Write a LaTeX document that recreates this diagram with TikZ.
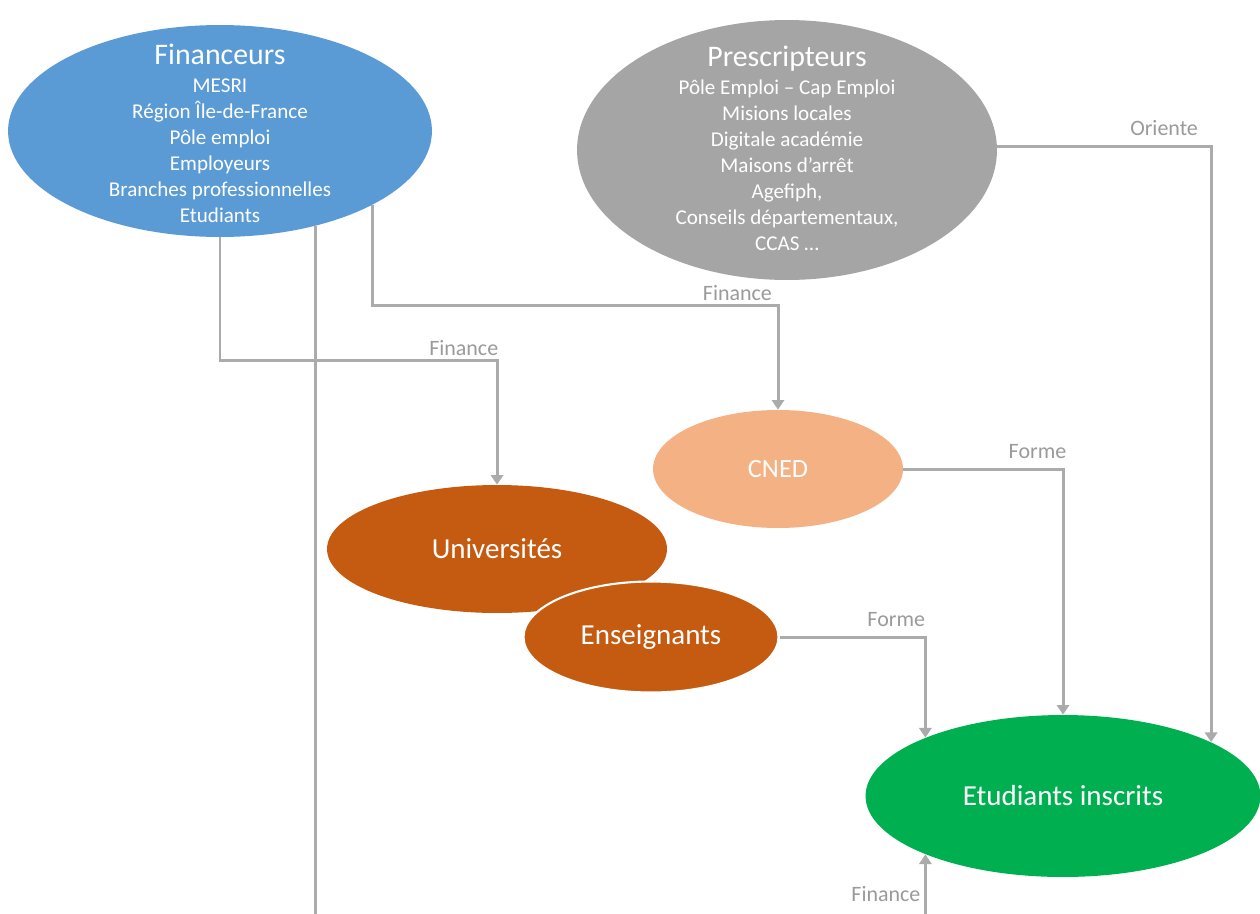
\documentclass[tikz,border=0pt]{standalone}
\usepackage{fontspec}
\setmainfont{Carlito}
\usetikzlibrary{shapes.geometric,arrows.meta}
\definecolor{finblue}{HTML}{5B9BD5}
\definecolor{presgray}{HTML}{A5A5A5}
\definecolor{cnedorange}{HTML}{F4B183}
\definecolor{univorange}{HTML}{C55A11}
\definecolor{etugreen}{HTML}{00B050}
\definecolor{linkgray}{HTML}{ABABAB}
\definecolor{lblgray}{HTML}{9A9A9A}
\tikzset{
  bubble/.style={ellipse, draw=none, inner sep=0pt},
  bubbletext/.style={text=white, align=center, inner sep=0pt,
    font=\fontsize{12}{14.8}\selectfont},
  link/.style={draw=linkgray, line width=1.7pt,
    -{Triangle[width=7pt,length=5.5pt]}},
  lbl/.style={text=lblgray, font=\fontsize{12.5}{14}\selectfont, inner sep=2pt}
}

\begin{document}
\begin{tikzpicture}[x=0.02cm, y=-0.02cm]
  \useasboundingbox (0,0) rectangle (1260,913);

  % the bubbles
  \node[bubble, fill=finblue, minimum width=8.48cm, minimum height=4.24cm]
    (fin) at (220,131) {};
  \node[bubbletext] (fintxt) at (220,133) {
    {\fontsize{17}{20}\selectfont Financeurs}\\[1pt]
    MESRI\\ Région Île-de-France\\ Pôle emploi\\ Employeurs\\
    Branches professionnelles\\ Etudiants};

  \node[bubble, fill=presgray, minimum width=8.4cm, minimum height=5.2cm]
    (pres) at (787,150) {};
  \node[bubbletext] (prestxt) at (787,148) {
    {\fontsize{17}{20}\selectfont Prescripteurs}\\[1pt]
    Pôle Emploi – Cap Emploi\\ Misions locales\\ Digitale académie\\
    Maisons d’arrêt\\ Agefiph,\\ Conseils départementaux,\\ CCAS …};

  \node[bubble, fill=cnedorange, minimum width=5cm, minimum height=2.36cm,
    text=white, font=\fontsize{15}{18}\selectfont] (cned) at (778,469) {CNED};
  \node[bubble, fill=univorange, minimum width=6.8cm, minimum height=2.56cm,
    text=white, font=\fontsize{16.5}{20}\selectfont] (univ) at (497,549) {Universités};
  \node[ellipse, fill=univorange, draw=white, line width=1.2pt, inner sep=0pt,
    minimum width=5.1cm, minimum height=2.22cm,
    text=white, font=\fontsize{16.5}{20}\selectfont] (ens) at (651,637) {Enseignants};
  \node[bubble, fill=etugreen, minimum width=7.9cm, minimum height=3.24cm,
    text=white, font=\fontsize{16.5}{20}\selectfont] (etu) at (1063,796) {Etudiants inscrits};

  \coordinate (bot) at (0,930);

  % the links
  \draw[link] (fin.south) -- ++(0,123) -| (univ.north)
    node[lbl, above, pos=0.44] (l1) {Finance};
  \draw[link] (fin.-26.6) -- ++(0,100) -| (cned.north)
    node[lbl, above, pos=0.45] (l2) {Finance};
  \draw[link] (fin.-45) |- (bot) -| (etu.-157)
    node[lbl, anchor=east, pos=0.74] (l3) {Finance};
  \draw[link] (pres.1) -| (etu.20)
    node[lbl, above, pos=0.39, yshift=3.5pt] (l4) {Oriente};
  \draw[link] (cned.east) -| (etu.north)
    node[lbl, above, pos=0.42, yshift=3pt] (l5) {Forme};
  \draw[link] (ens.east) -| (etu.157)
    node[lbl, above, pos=0.40, yshift=3pt] (l6) {Forme};
\end{tikzpicture}
\end{document}
